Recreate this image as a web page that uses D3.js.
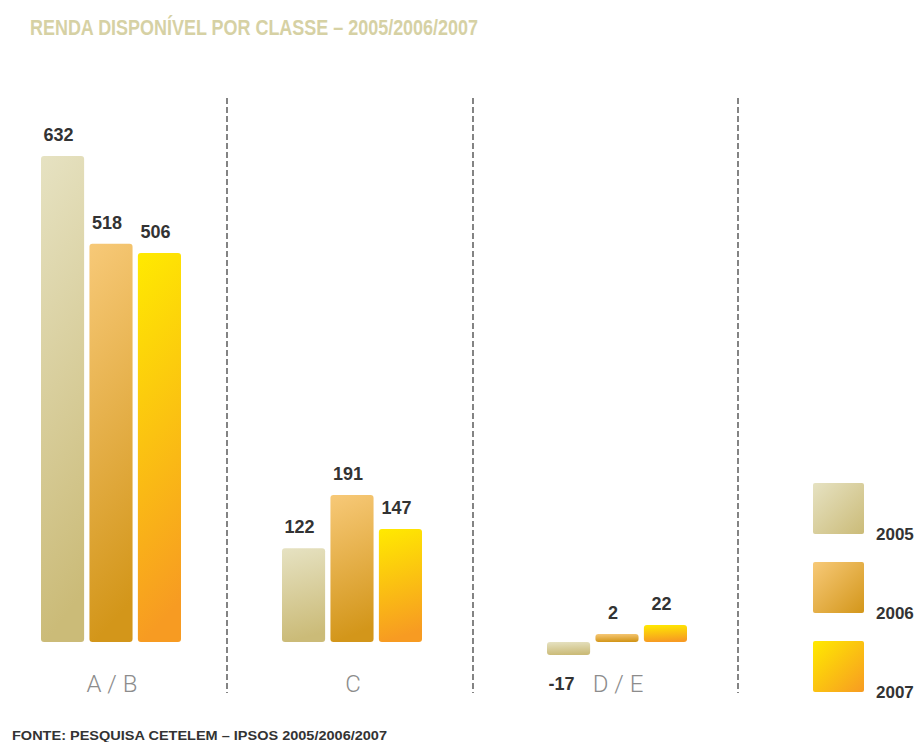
<!DOCTYPE html>
<html>
<head>
<meta charset="utf-8">
<script src="https://cdn.jsdelivr.net/npm/d3@7"></script>
<style>
  body { margin: 0; background: white; }
  svg { display: block; }
  .valor { font-family: "Liberation Sans", Arial, sans-serif; font-weight: bold; font-size: 18px; fill: #333; }
  .classe { font-family: Roboto, "Liberation Sans", sans-serif; font-weight: 300; font-size: 24px; fill: #8c8c8c; }
</style>
</head>
<body>
<div id="grafico"></div>
<script>
var classes = ["A / B", "C", "D / E"];
var anos = ["2005", "2006", "2007"];
var renda2005 = [632, 122, -17];
var renda2006 = [518, 191, 2];
var renda2007 = [506, 147, 22];

var series = [renda2005, renda2006, renda2007];

var width = 920, height = 742;

var svg = d3.select("#grafico")
  .append("svg")
  .attr("width", width)
  .attr("height", height)
  .style("background", "white");

// gradientes: barras quase verticais, legenda na diagonal
var cores = {
  "2005": ["#e6e2c2", "#cbbb78"],
  "2006": ["#f7c978", "#d3961a"],
  "2007": ["#ffea00", "#f79b22"]
};
var defs = svg.append("defs");
anos.forEach(function (a) {
  [["bar", 0.12], ["leg", 1]].forEach(function (tipo) {
    var g = defs.append("linearGradient")
      .attr("id", tipo[0] + a)
      .attr("x1", 0).attr("y1", 0).attr("x2", tipo[1]).attr("y2", 1);
    g.append("stop").attr("offset", "0%").attr("stop-color", cores[a][0]);
    g.append("stop").attr("offset", "100%").attr("stop-color", cores[a][1]);
  });
});

// titulo
svg.append("text")
  .attr("x", 30)
  .attr("y", 35)
  .attr("textLength", 448)
  .attr("lengthAdjust", "spacingAndGlyphs")
  .style("font-family", "'Liberation Sans', Arial, sans-serif")
  .style("font-weight", "bold")
  .style("font-size", "22px")
  .style("fill", "#d6d1a4")
  .text("RENDA DISPONÍVEL POR CLASSE – 2005/2006/2007");

var xGrupo = d3.scaleOrdinal()
  .domain(classes)
  .range([41, 282, 547]);

var xAno = d3.scaleBand()
  .domain(anos)
  .range([0, 140])
  .paddingInner(0.11);

var yscale = d3.scaleLinear()
  .domain([0, 632])
  .range([642, 156]);

// linhas tracejadas
var divisorias = [227, 473, 738];
svg.append("g")
  .selectAll("line")
  .data(divisorias)
  .enter().append("line")
  .attr("x1", d => d).attr("x2", d => d)
  .attr("y1", 98).attr("y2", 693)
  .attr("stroke", "#333")
  .attr("stroke-width", 1.2)
  .attr("stroke-dasharray", "6,3");

var dados = [];
classes.forEach(function (c, i) {
  anos.forEach(function (a, j) {
    dados.push({ classe: c, ano: a, valor: series[j][i] });
  });
});

var minAltura = 8;
var altura = d => Math.max(Math.abs(yscale(d.valor) - yscale(0)), minAltura);

svg.append("g")
  .selectAll("rect")
  .data(dados)
  .enter().append("rect")
  .attr("x", d => xGrupo(d.classe) + xAno(d.ano))
  .attr("width", xAno.bandwidth())
  .attr("y", d => d.valor >= 0 ? yscale(0) - altura(d) : yscale(0))
  .attr("height", altura)
  .attr("rx", 3)
  .attr("fill", d => "url(#bar" + d.ano + ")");

// rotulos dos valores
svg.append("g")
  .selectAll("text")
  .data(dados)
  .enter().append("text")
  .attr("class", "valor")
  .attr("text-anchor", "middle")
  .attr("x", d => xGrupo(d.classe) + xAno(d.ano) + xAno.bandwidth() / 2 - (d.valor < 0 ? 7 : 4))
  .attr("y", d => d.valor >= 0 ? yscale(0) - altura(d) - 15 : yscale(0) + altura(d) + 35)
  .text(d => d.valor);

// classes
svg.append("g")
  .selectAll("text")
  .data(classes)
  .enter().append("text")
  .attr("class", "classe")
  .attr("text-anchor", "middle")
  .attr("x", d => xGrupo(d) + 71)
  .attr("y", 692)
  .text(d => d);

// legenda
var yLegenda = d3.scalePoint()
  .domain(anos)
  .range([483, 641]);

var leg = svg.append("g")
  .selectAll("g")
  .data(anos)
  .enter().append("g")
  .attr("transform", d => "translate(813," + yLegenda(d) + ")");

leg.append("rect")
  .attr("width", 51)
  .attr("height", 51)
  .attr("rx", 2)
  .attr("fill", d => "url(#leg" + d + ")");

leg.append("text")
  .attr("x", 63)
  .attr("y", 57)
  .style("font-family", "'Liberation Sans', Arial, sans-serif")
  .style("font-weight", "bold")
  .style("font-size", "17px")
  .style("fill", "#333")
  .text(d => d);

// fonte
svg.append("text")
  .attr("x", 12)
  .attr("y", 740)
  .attr("textLength", 375)
  .attr("lengthAdjust", "spacingAndGlyphs")
  .style("font-family", "'Liberation Sans', Arial, sans-serif")
  .style("font-weight", "bold")
  .style("font-size", "13px")
  .style("fill", "#333")
  .text("FONTE: PESQUISA CETELEM – IPSOS 2005/2006/2007");
</script>
</body>
</html>
